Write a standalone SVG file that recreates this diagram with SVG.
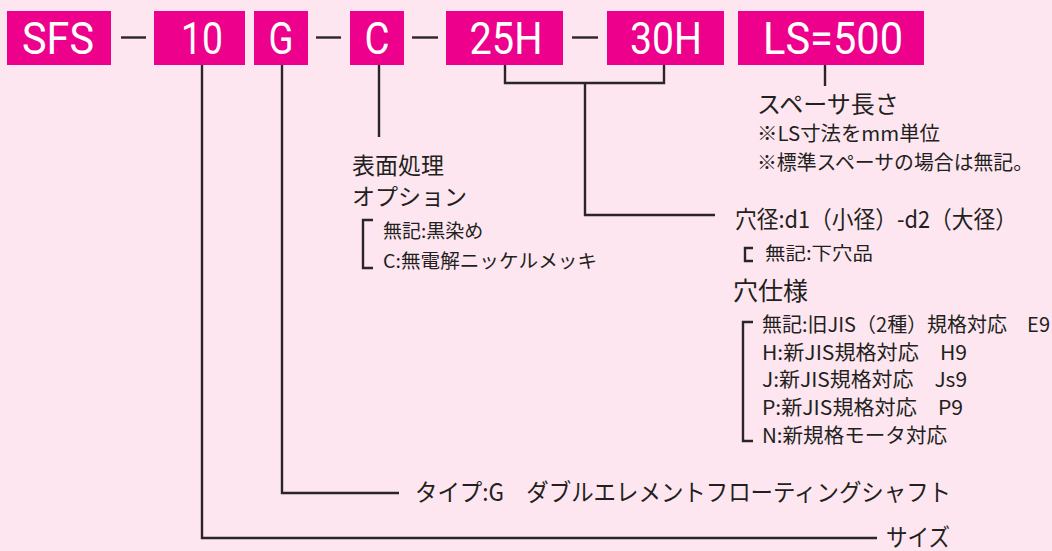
<svg xmlns="http://www.w3.org/2000/svg" width="1052" height="551" viewBox="0 0 1052 551">
<style>
.box{fill:#ec008c}
.bt{font-family:Roboto,"Liberation Sans",sans-serif;font-size:45px;font-weight:400;fill:#ffffff;text-anchor:middle}
.ln{fill:none;stroke:#2b2526;stroke-width:2.4}
.t{font-family:"Noto Sans CJK JP",sans-serif;fill:#231f20}
.t24{font-size:24px}
.t20{font-size:20px}
.t19{font-size:19px}
.t18{font-size:18px}
</style>
<rect x="0" y="0" width="1052" height="551" fill="#fde6f0"/>
<g id="connectors" class="ln">
<line x1="121" y1="37.5" x2="146" y2="37.5"/>
<line x1="316" y1="37.5" x2="341" y2="37.5"/>
<line x1="412" y1="37.5" x2="438" y2="37.5"/>
<line x1="572" y1="37.5" x2="598" y2="37.5"/>
<path d="M202,65 V538 H877"/>
<path d="M282,65 V493 H399"/>
<path d="M379,65 V137"/>
<path d="M505,65 V83 H664 V65"/>
<path d="M585,83 V215 H715"/>
<path d="M825,65 V86"/>
<path d="M373,220 H363 V268 H373"/>
<path d="M753,248 H745 V261 H753"/>
<path d="M753,322 H743 V441 H753"/>
</g>
<g id="n-sfs"><rect class="box" x="7" y="11" width="104" height="54"/><text class="bt" x="58" y="54" textLength="72" lengthAdjust="spacingAndGlyphs">SFS</text></g>
<g id="n-10"><rect class="box" x="154" y="11" width="91" height="54"/><text class="bt" x="202" y="54" textLength="42" lengthAdjust="spacingAndGlyphs">10</text></g>
<g id="n-g"><rect class="box" x="254" y="11" width="54" height="54"/><text class="bt" x="281" y="54" textLength="25" lengthAdjust="spacingAndGlyphs">G</text></g>
<g id="n-c"><rect class="box" x="350" y="11" width="54" height="54"/><text class="bt" x="377" y="54" textLength="25" lengthAdjust="spacingAndGlyphs">C</text></g>
<g id="n-25h"><rect class="box" x="446" y="11" width="117" height="54"/><text class="bt" x="506" y="54" textLength="73" lengthAdjust="spacingAndGlyphs">25H</text></g>
<g id="n-30h"><rect class="box" x="607" y="11" width="117" height="54"/><text class="bt" x="666" y="54" textLength="72" lengthAdjust="spacingAndGlyphs">30H</text></g>
<g id="n-ls"><rect class="box" x="738" y="11" width="186" height="54"/><text class="bt" x="833" y="54" textLength="140" lengthAdjust="spacingAndGlyphs">LS=500</text></g>
<g id="l-surface">
<text class="t" x="352" y="174" font-size="23">表面処理</text>
<text class="t" x="352" y="205" font-size="23">オプション</text>
<text class="t t19" x="383" y="238">無記:黒染め</text>
<text class="t t19" x="383" y="268" textLength="214" lengthAdjust="spacingAndGlyphs">C:無電解ニッケルメッキ</text>
</g>
<g id="l-spacer">
<text class="t t24" x="757" y="113">スペーサ長さ</text>
<text class="t t20" x="757" y="141" textLength="183" lengthAdjust="spacingAndGlyphs">※LS寸法をmm単位</text>
<text class="t t20" x="757" y="170" textLength="276" lengthAdjust="spacingAndGlyphs">※標準スペーサの場合は無記。</text>
</g>
<g id="l-hole">
<text class="t t24" x="735" y="228" textLength="282" lengthAdjust="spacingAndGlyphs">穴径:d1（小径）-d2（大径）</text>
<text class="t t18" x="765" y="260" textLength="108" lengthAdjust="spacingAndGlyphs">無記:下穴品</text>
<text class="t" x="733" y="300" font-size="25">穴仕様</text>
<text class="t t20" x="762" y="332" textLength="288" lengthAdjust="spacingAndGlyphs">無記:旧JIS（2種）規格対応　E9</text>
<text class="t t20" x="762" y="360" textLength="205" lengthAdjust="spacingAndGlyphs">H:新JIS規格対応　H9</text>
<text class="t t20" x="762" y="387" textLength="205" lengthAdjust="spacingAndGlyphs">J:新JIS規格対応　Js9</text>
<text class="t t20" x="762" y="415" textLength="201" lengthAdjust="spacingAndGlyphs">P:新JIS規格対応　P9</text>
<text class="t t20" x="762" y="443" textLength="185" lengthAdjust="spacingAndGlyphs">N:新規格モータ対応</text>
</g>
<g id="l-type">
<text class="t t24" x="415" y="501" textLength="536" lengthAdjust="spacingAndGlyphs">タイプ:G　ダブルエレメントフローティングシャフト</text>
</g>
<g id="l-size">
<text class="t t24" x="886" y="546" textLength="64" lengthAdjust="spacingAndGlyphs">サイズ</text>
</g>
</svg>
